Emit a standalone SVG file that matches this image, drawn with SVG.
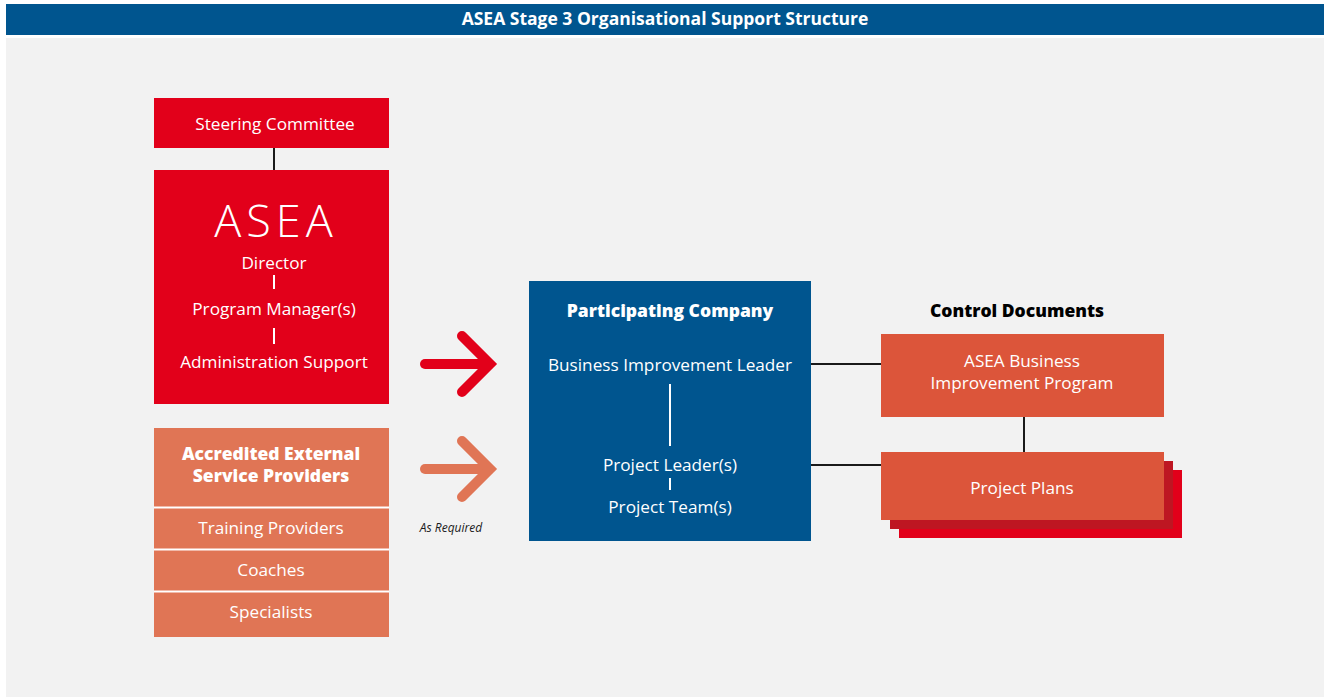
<svg xmlns="http://www.w3.org/2000/svg" width="1324" height="697" viewBox="0 0 1324 697">
  <style>
    text { font-family: "Open Sans", "Liberation Sans", sans-serif; text-anchor: middle; }
    .w { fill: #ffffff; }
    .t16 { font-size: 17.2px; }
    .b { font-weight: 800; font-size: 17.5px; }
    .link { stroke: #1a1a1a; stroke-width: 2; fill: none; }
    .inner { stroke: #ffffff; stroke-width: 2; fill: none; }
    .arrow { fill: none; stroke-width: 10; stroke-linecap: round; stroke-linejoin: miter; }
  </style>

  <!-- page background -->
  <rect x="0" y="0" width="1324" height="697" fill="#ffffff"/>
  <rect x="6" y="38" width="1318" height="659" fill="#f2f2f2"/>

  <!-- title bar -->
  <g id="title">
    <rect x="6" y="4" width="1318" height="31" fill="#00558f"/>
    <text x="665" y="25" class="w" font-weight="bold" font-size="17.5">ASEA Stage 3 Organisational Support Structure</text>
  </g>

  <!-- connectors -->
  <g id="connectors">
    <line class="link" x1="274" y1="148" x2="274" y2="170"/>
    <line class="link" x1="811" y1="364" x2="881" y2="364"/>
    <line class="link" x1="811" y1="465" x2="881" y2="465"/>
    <line class="link" x1="1024" y1="417" x2="1024" y2="452"/>
    <polyline class="arrow" stroke="#e2001a" points="425,364 489,364"/>
    <polyline class="arrow" stroke="#e2001a" points="462,336 490,364 462,392"/>
    <polyline class="arrow" stroke="#e07555" points="425,469 489,469"/>
    <polyline class="arrow" stroke="#e07555" points="462,441 490,469 462,497"/>
    <text x="451" y="532" font-size="12" font-style="italic" fill="#1a1a1a">As Required</text>
  </g>

  <!-- steering committee -->
  <g id="steering">
    <rect x="154" y="98" width="235" height="50" fill="#e2001a"/>
    <text x="275" y="130" class="w t16">Steering Committee</text>
  </g>

  <!-- ASEA office -->
  <g id="asea">
    <rect x="154" y="170" width="235" height="234" fill="#e2001a"/>
    <text x="276" y="237" class="w" font-size="45" font-weight="300" letter-spacing="5">ASEA</text>
    <text x="274" y="269" class="w t16">Director</text>
    <line class="inner" x1="274" y1="275" x2="274" y2="289"/>
    <text x="274" y="315" class="w t16">Program Manager(s)</text>
    <line class="inner" x1="274" y1="328" x2="274" y2="344"/>
    <text x="274" y="368" class="w t16">Administration Support</text>
  </g>

  <!-- external providers -->
  <g id="providers">
    <rect x="154" y="428" width="235" height="209" fill="#e07555"/>
    <line class="inner" x1="154" y1="507.5" x2="389" y2="507.5"/>
    <line class="inner" x1="154" y1="549.5" x2="389" y2="549.5"/>
    <line class="inner" x1="154" y1="591.5" x2="389" y2="591.5"/>
    <text x="271" y="460" class="w b">Accredited External</text>
    <text x="271" y="482" class="w b">Service Providers</text>
    <text x="271" y="534" class="w t16">Training Providers</text>
    <text x="271" y="576" class="w t16">Coaches</text>
    <text x="271" y="618" class="w t16">Specialists</text>
  </g>

  <!-- participating company -->
  <g id="company">
    <rect x="529" y="281" width="282" height="260" fill="#00558f"/>
    <text x="670" y="317" class="w b">Participating Company</text>
    <text x="670" y="371" class="w t16">Business Improvement Leader</text>
    <line class="inner" x1="670" y1="384" x2="670" y2="446"/>
    <text x="670" y="471" class="w t16">Project Leader(s)</text>
    <line class="inner" x1="670" y1="478" x2="670" y2="490"/>
    <text x="670" y="513" class="w t16">Project Team(s)</text>
  </g>

  <!-- control documents -->
  <g id="control-docs">
    <text x="1017" y="317" class="b" fill="#000000">Control Documents</text>
  </g>

  <g id="improvement-program">
    <rect x="881" y="334" width="283" height="83" fill="#dc553a"/>
    <text x="1022" y="367" class="w t16">ASEA Business</text>
    <text x="1022" y="389" class="w t16">Improvement Program</text>
  </g>

  <g id="project-plans">
    <rect x="899" y="470" width="283" height="68" fill="#e2001a"/>
    <rect x="890" y="461" width="283" height="68" fill="#be1622"/>
    <rect x="881" y="452" width="283" height="68" fill="#dc553a"/>
    <text x="1022" y="494" class="w t16">Project Plans</text>
  </g>
</svg>
